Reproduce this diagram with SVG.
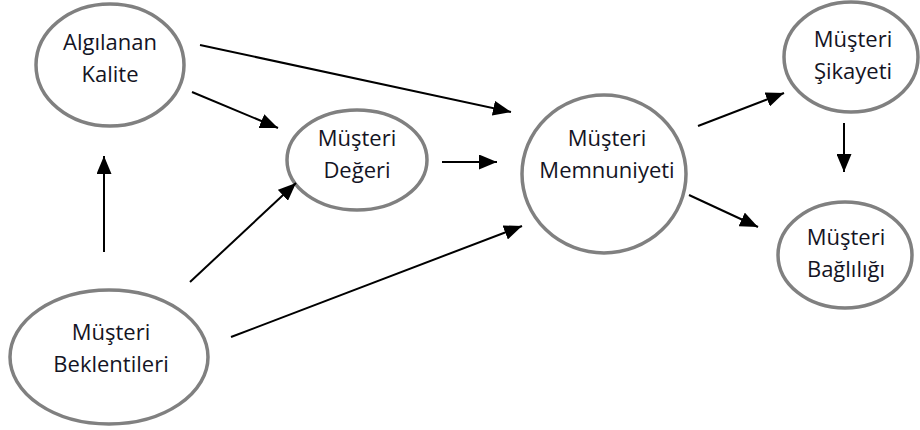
<svg xmlns="http://www.w3.org/2000/svg" width="920" height="430" viewBox="0 0 920 430">
<style>
.node ellipse{fill:#fff;stroke:#808080;stroke-width:3.5}
.node text{font-family:"Open Sans","Noto Sans",sans-serif;font-size:22px;fill:#141424;text-anchor:middle}
.edges line{stroke:#000;stroke-width:2;marker-end:url(#ah)}
</style>
<defs>
<marker id="ah" markerUnits="userSpaceOnUse" markerWidth="19" markerHeight="15" refX="18" refY="7.5" orient="auto">
<path d="M0,0 L18,7.5 L0,15 z" fill="#000"/>
</marker>
</defs>
<rect width="920" height="430" fill="#fff"/>
<g id="n-algilanan" class="node"><ellipse cx="110" cy="65" rx="74" ry="61"/><text x="110" y="50">Algılanan</text><text x="110" y="82">Kalite</text></g>
<g id="n-deger" class="node"><ellipse cx="357" cy="160" rx="70" ry="50"/><text x="357" y="146">Müşteri</text><text x="357" y="178">Değeri</text></g>
<g id="n-memnuniyet" class="node"><ellipse cx="604" cy="174" rx="82" ry="79"/><text x="607" y="146">Müşteri</text><text x="607" y="178">Memnuniyeti</text></g>
<g id="n-sikayet" class="node"><ellipse cx="851" cy="57" rx="67" ry="55"/><text x="853" y="47">Müşteri</text><text x="853" y="79">Şikayeti</text></g>
<g id="n-baglilik" class="node"><ellipse cx="845" cy="255" rx="67" ry="53"/><text x="846" y="245">Müşteri</text><text x="846" y="277">Bağlılığı</text></g>
<g id="n-beklenti" class="node"><ellipse cx="109" cy="357" rx="99" ry="67"/><text x="111" y="340">Müşteri</text><text x="111" y="372">Beklentileri</text></g>
<g id="edges" class="edges">
<line x1="200" y1="45" x2="511" y2="112"/>
<line x1="192" y1="92" x2="278" y2="128"/>
<line x1="104" y1="252" x2="104" y2="156"/>
<line x1="190" y1="282" x2="296" y2="183"/>
<line x1="231" y1="337" x2="522" y2="226"/>
<line x1="442" y1="162" x2="497" y2="162"/>
<line x1="698" y1="126" x2="784" y2="93"/>
<line x1="689" y1="195" x2="758" y2="227"/>
<line x1="844" y1="123" x2="844" y2="172"/>
</g>
</svg>
